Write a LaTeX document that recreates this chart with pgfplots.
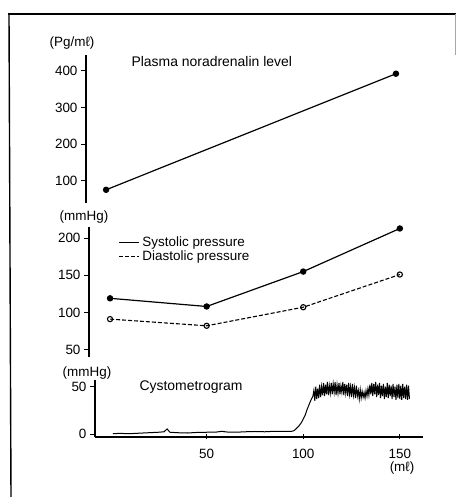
\documentclass[border=0pt]{standalone}
\usepackage{fontspec}
\setmainfont{Liberation Sans}
\usepackage{pgfplots}
\pgfplotsset{compat=1.18}
\begin{document}
\begin{tikzpicture}
\path[use as bounding box] (0bp,0bp) rectangle (456bp,497bp);
\draw[line width=1.4bp] (8bp,483bp) -- (456bp,483bp);
\draw[line width=1.4bp] (9bp,483bp) -- (11bp,0bp);
\draw[line width=0.8bp,black!35] (455bp,483bp) -- (455bp,442bp);
\pgfplotsset{
  panel/.style={
    scale only axis,
    axis y line=left,
    axis line style={-, line width=1.1bp},
    tick style={line width=1bp, black},
    tick align=outside,
    major tick length=5bp,
    /pgf/number format/assume math mode=true,
    ticklabel style={font=\fontsize{13.5}{14}\selectfont},
    clip=false,
  }
}
% top panel
\begin{axis}[panel, axis x line=none, at={(86bp,294bp)}, anchor=south west,
  width=337bp, height=148bp,
  xmin=-12.4, xmax=162, ymin=40, ymax=443,
  ytick={100,200,300,400}]
\addplot[line width=1.2bp, mark=*, mark size=2.6bp] coordinates {(-2,76) (148,392)};
\end{axis}
% middle panel
\begin{axis}[panel, axis x line=none, at={(89bp,140bp)}, anchor=south west,
  width=334bp, height=130bp,
  xmin=-10.9, xmax=162, ymin=40, ymax=215,
  ytick={50,100,150,200},
  legend style={draw=none, fill=none, at={(0.087,0.93)}, anchor=north west,
    font=\fontsize{13.5}{14}\selectfont, inner sep=0pt, row sep=1.5bp,
    nodes={inner sep=0.5pt, inner xsep=3bp}},
  legend cell align=left,
  legend image code/.code={\draw[#1,mark=none] (0bp,0bp) -- (20bp,0bp);}]
\addplot[line width=1.2bp, mark=*, mark size=2.6bp] coordinates {(0,119) (50,108) (100,155) (150,213)};
\addlegendentry{Systolic pressure}
\addplot[line width=1.1bp, dash pattern=on 4bp off 2bp, mark=o, mark size=2.6bp, mark options={solid, fill=white}] coordinates {(0,91) (50,82) (100,107) (150,151)};
\addlegendentry{Diastolic pressure}
\end{axis}
% bottom panel
\begin{axis}[panel, axis x line=bottom, at={(95bp,60bp)}, anchor=south west,
  x axis line style={-}, y axis line style={-},
  width=328bp, height=57bp,
  xmin=-7.8, xmax=162, ymin=-3, ymax=57,
  ytick={0,50}, xtick={50,100,150},
  xticklabel style={yshift=-6bp}]
\addplot[line width=1bp, mark=none] coordinates {
(1.5,0.5) (5,0.8) (10,0.5) (15,1) (20,1.5) (25,2) (28,2.5) (29.5,5.5) (31,2) (35,1.5)
(40,1.2) (45,1.8) (50,2) (55,2.2) (58,3) (60,2.3) (65,2) (70,2.5) (75,2.8) (80,2.5)
(85,3) (90,2.8) (94,3) (95,3.5) (96,5) (97.5,8) (99,12) (100,16) (101,20) (102,26)
(103,31) (104,36) (105,40)
(105.5,46) (106,35) (106.5,50) (107,37) (107.5,48) (108,38) (108.5,52) (109,39) (109.5,50) (110,41)
(110.5,54) (111,40) (111.5,52) (112,42) (112.5,55) (113,41) (113.5,51) (114,43) (114.5,54) (115,42)
(115.5,53) (116,44) (116.5,55) (117,41) (117.5,52) (118,43) (118.5,54) (119,42) (119.5,51) (120,44)
(120.5,55) (121,41) (121.5,53) (122,43) (122.5,52) (123,40) (123.5,54) (124,42) (124.5,50) (125,39)
(125.5,53) (126,41) (126.5,49) (127,38) (127.5,51) (128,40) (128.5,46) (129,37) (129.5,47) (130,38)
(130.5,45) (131,39) (131.5,44) (132,38) (132.5,46) (133,40) (133.5,48) (134,41) (134.5,52) (135,42)
(135.5,54) (136,40) (136.5,53) (137,42) (137.5,55) (138,39) (138.5,52) (139,41) (139.5,54) (140,38)
(140.5,51) (141,40) (141.5,53) (142,37) (142.5,50) (143,39) (143.5,54) (144,38) (144.5,52) (145,40)
(145.5,51) (146,37) (146.5,53) (147,39) (147.5,50) (148,36) (148.5,52) (149,38) (149.5,53) (150,37)
(150.5,51) (151,36) (151.5,53) (152,38) (152.5,50) (153,37) (153.5,52) (154,36) (154.5,51) (155,37)
};
\end{axis}
\node[font=\fontsize{13.5}{14}\selectfont] at (72bp,454bp) {(Pg/mℓ)};
\node[font=\fontsize{14}{14}\selectfont, anchor=west] at (128bp,435bp) {Plasma noradrenalin level};
\node[font=\fontsize{13.5}{14}\selectfont] at (84bp,280bp) {(mmHg)};
\node[font=\fontsize{13.5}{14}\selectfont] at (87bp,124bp) {(mmHg)};
\node[font=\fontsize{14}{14}\selectfont, anchor=west] at (136bp,110bp) {Cystometrogram};
\node[font=\fontsize{13.5}{14}\selectfont] at (402bp,29bp) {(mℓ)};
\end{tikzpicture}
\end{document}
